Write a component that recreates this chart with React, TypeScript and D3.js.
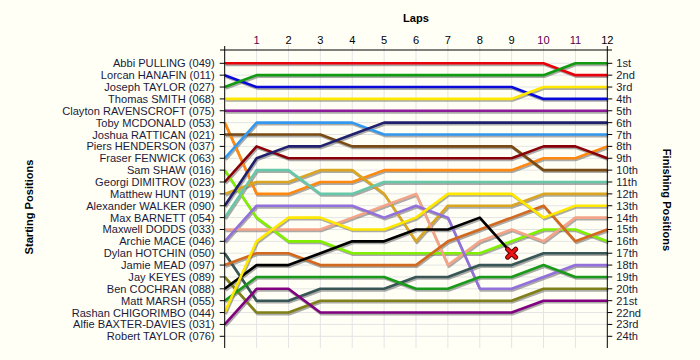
import React from "react";
import * as d3 from "d3";

const laps = [0, 1, 2, 3, 4, 5, 6, 7, 8, 9, 10, 11, 12];
const lapLabels = ["1", "2", "3", "4", "5", "6", "7", "8", "9", "10", "11", "12"];
const startNames = [
  "Abbi PULLING (049)", "Lorcan HANAFIN (011)", "Joseph TAYLOR (027)", "Thomas SMITH (068)",
  "Clayton RAVENSCROFT (075)", "Toby MCDONALD (053)", "Joshua RATTICAN (021)", "Piers HENDERSON (037)",
  "Fraser FENWICK (063)", "Sam SHAW (016)", "Georgi DIMITROV (023)", "Matthew HUNT (019)",
  "Alexander WALKER (090)", "Max BARNETT (054)", "Maxwell DODDS (033)", "Archie MACE (046)",
  "Dylan HOTCHIN (050)", "Jamie MEAD (097)", "Jay KEYES (089)", "Ben COCHRAN (088)",
  "Matt MARSH (055)", "Rashan CHIGORIMBO (044)", "Alfie BAXTER-DAVIES (031)", "Robert TAYLOR (076)",
];
const finishLabels = [
  "1st", "2nd", "3rd", "4th", "5th", "6th", "7th", "8th", "9th", "10th", "11th", "12th",
  "13th", "14th", "15th", "16th", "17th", "18th", "19th", "20th", "21st", "22nd", "23rd", "24th",
];

// positions per lap (lap 0..12)
const red = [1, 1, 1, 1, 1, 1, 1, 1, 1, 1, 1, 2, 2];
const blue = [2, 3, 3, 3, 3, 3, 3, 3, 3, 3, 4, 4, 4];
const green = [3, 2, 2, 2, 2, 2, 2, 2, 2, 2, 2, 1, 1];
const yellow = [4, 4, 4, 4, 4, 4, 4, 4, 4, 4, 3, 3, 3];
const purple = [5, 5, 5, 5, 5, 5, 5, 5, 5, 5, 5, 5, 5];
const orange = [6, 12, 12, 11, 11, 10, 10, 10, 10, 10, 9, 9, 8];
const brown = [7, 7, 7, 7, 8, 8, 8, 8, 8, 8, 10, 10, 10];
const lightBlue = [9, 6, 6, 6, 6, 7, 7, 7, 7, 7, 7, 7, 7];
const lime = [10, 14, 16, 16, 17, 17, 17, 17, 17, 16, 15, 15, 16];
const darkRed = [11, 8, 9, 9, 9, 9, 9, 9, 9, 9, 8, 8, 9];
const gold = [12, 11, 11, 10, 10, 12, 16, 13, 13, 13, 12, 12, 12];
const navy = [13, 9, 8, 8, 7, 6, 6, 6, 6, 6, 6, 6, 6];
const teal = [14, 10, 10, 12, 12, 11, 11, 11, 11, 11, 11, 11, 11];
const salmon = [15, 15, 15, 15, 14, 13, 12, 18, 16, 15, 16, 14, 14];
const lavender = [16, 13, 13, 13, 13, 14, 13, 14, 20, 20, 19, 18, 18];
const slate = [17, 21, 21, 20, 20, 20, 19, 19, 18, 18, 17, 17, 17];
const chocolate = [18, 17, 17, 18, 18, 18, 18, 16, 15, 14, 13, 16, 15];
const olive = [19, 22, 22, 21, 21, 21, 21, 21, 21, 21, 20, 20, 20];
const black = [20, 18, 18, 17, 16, 16, 15, 15, 14, 17];
const forest = [21, 19, 19, 19, 19, 19, 20, 20, 19, 19, 18, 19, 19];
const yellow2 = [22, 16, 14, 14, 15, 15, 14, 12, 12, 12, 14, 13, 13];
const purple2 = [23, 20, 20, 22, 22, 22, 22, 22, 22, 22, 21, 21, 21];

const series = [
  { values: red, color: "#e8000b" },
  { values: blue, color: "#0a0ad8" },
  { values: green, color: "#129a12" },
  { values: yellow, color: "#ffe800" },
  { values: purple, color: "#8c1c98" },
  { values: orange, color: "#ff8810" },
  { values: brown, color: "#7a4a14" },
  { values: lightBlue, color: "#3399f0" },
  { values: lime, color: "#80f000" },
  { values: darkRed, color: "#8a0008" },
  { values: gold, color: "#daa520" },
  { values: navy, color: "#20206e" },
  { values: teal, color: "#66c8a8" },
  { values: salmon, color: "#f4a488" },
  { values: lavender, color: "#9370db" },
  { values: slate, color: "#385656" },
  { values: chocolate, color: "#d2691e" },
  { values: olive, color: "#80801a" },
  { values: black, color: "#000000" },
  { values: forest, color: "#1a9a1a" },
  { values: yellow2, color: "#ffe800" },
  { values: purple2, color: "#800080" },
];
const retiredLap = 9;
const retiredPos = 17;

export default function App() {
  const W = 700, H = 360;
  const x = d3.scaleLinear().domain([0, 12]).range([224.7, 607.3]);
  const y = d3.scaleLinear().domain([1, 24]).range([63.3, 336.3]);
  const line = d3.line<number>().x((_, i) => x(laps[i])).y((d) => y(d));
  const font = "'Liberation Sans', Arial, sans-serif";
  const rows = d3.range(1, 25);
  const top = 50, bottom = 348;
  const fs = 11.1;

  return (
    <svg width={W} height={H} style={{ position: "absolute", left: 0, top: 0, background: "#fffff6" }}>
      <rect x={0} y={0} width={W} height={H} fill="#fffff6" />
      {/* grid */}
      {rows.map((r) => (
        <line key={"h" + r} x1={x(0)} x2={x(12)} y1={y(r)} y2={y(r)} stroke="#e4e4e4" strokeWidth={1} />
      ))}
      {laps.slice(1, 12).map((l) => (
        <line key={"v" + l} x1={x(l)} x2={x(l)} y1={45} y2={bottom} stroke="#e4e4e4" strokeWidth={1} />
      ))}
      {/* shadows */}
      {series.map((s, i) => (
        <path key={"s" + i} d={line(s.values) || ""} fill="none" stroke="#666" strokeOpacity={0.55}
          strokeWidth={2.6} transform="translate(1,1.6)" strokeLinejoin="round" />
      ))}
      {series.map((s, i) => (
        <path key={"l" + i} d={line(s.values) || ""} fill="none" stroke={s.color}
          strokeWidth={2.6} strokeLinejoin="round" />
      ))}
      {/* retired marker */}
      <g transform={`translate(${x(retiredLap)},${y(retiredPos)})`}>
        <path d="M-4,-4L4,4M-4,4L4,-4" stroke="#5a0000" strokeWidth={5} strokeLinecap="round" />
        <path d="M-4,-4L4,4M-4,4L4,-4" stroke="#ee1111" strokeWidth={3} strokeLinecap="round" />
      </g>
      {/* axes */}
      <line x1={220} x2={612} y1={top} y2={top} stroke="#000" strokeWidth={1} />
      <line x1={x(0)} x2={x(0)} y1={46} y2={bottom} stroke="#000" strokeWidth={1} />
      <line x1={x(12)} x2={x(12)} y1={46} y2={bottom} stroke="#000" strokeWidth={1} />
      {lapLabels.map((t, i) => (
        <text key={"t" + t} x={x(i + 1)} y={44} textAnchor="middle" fontFamily={font} fontSize={fs}
          fill={t === "1" || t === "10" || t === "11" ? "#5a0050" : "#000"}>{t}</text>
      ))}
      <text x={416} y={22} textAnchor="middle" fontFamily={font} fontSize={fs} fontWeight="bold">Laps</text>
      {startNames.map((n, i) => (
        <g key={"ln" + i}>
          <line x1={x(0) - 5} x2={x(0)} y1={y(i + 1)} y2={y(i + 1)} stroke="#000" />
          <text x={x(0) - 10} y={y(i + 1) + 4} textAnchor="end" fontFamily={font} fontSize={fs} fill="#1a1a3a">{n}</text>
        </g>
      ))}
      {finishLabels.map((n, i) => (
        <g key={"rn" + i}>
          <line x1={x(12)} x2={x(12) + 5} y1={y(i + 1)} y2={y(i + 1)} stroke="#000" />
          <text x={x(12) + 9} y={y(i + 1) + 4} textAnchor="start" fontFamily={font} fontSize={fs} fill="#1a1a3a">{n}</text>
        </g>
      ))}
      <text transform="translate(33,207) rotate(-90)" textAnchor="middle" fontFamily={font} fontSize={fs} fontWeight="bold">Starting Positions</text>
      <text transform="translate(663,200) rotate(90)" textAnchor="middle" fontFamily={font} fontSize={fs} fontWeight="bold">Finishing Positions</text>
    </svg>
  );
}
